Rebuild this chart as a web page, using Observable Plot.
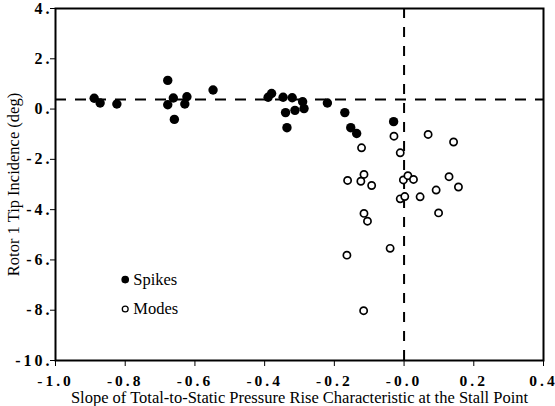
<!DOCTYPE html>
<html>
<head>
<meta charset="utf-8">
<script src="https://cdn.jsdelivr.net/npm/d3@7"></script>
<script src="https://cdn.jsdelivr.net/npm/@observablehq/plot@0.6"></script>
<style>
  html, body { margin: 0; padding: 0; background: #fff; }
  #chart svg { display: block; }
  #chart svg [aria-label="x-axis tick label"] { font-size: 15.5px; font-weight: bold; letter-spacing: 3px; }
  #chart svg [aria-label="y-axis tick label"] { font-size: 16px; font-weight: bold; letter-spacing: 3px; }
  #chart svg [aria-label="x-axis label"],
  #chart svg [aria-label="y-axis label"] { font-size: 16.5px; font-weight: normal; }
  #chart svg [aria-label="text"] { font-size: 16.5px; }
</style>
</head>
<body>
<div id="chart"></div>
<script>
// Spikes (filled circles)
const spikeX = [-0.889,-0.872,-0.824,-0.678,-0.678,-0.662,-0.659,-0.629,-0.623,-0.548,-0.390,-0.380,-0.347,-0.321,-0.291,-0.340,-0.313,-0.287,-0.336,-0.220,-0.170,-0.153,-0.136,-0.030];
const spikeY = [0.43,0.24,0.20,1.14,0.17,0.44,-0.41,0.20,0.49,0.76,0.47,0.62,0.47,0.45,0.29,-0.14,-0.05,0.02,-0.74,0.24,-0.14,-0.74,-0.97,-0.50];
// Modes (open circles)
const modeX = [-0.029,0.069,0.142,-0.122,-0.011,-0.162,-0.115,-0.124,-0.093,-0.002,0.011,0.027,0.129,0.156,0.092,0.046,-0.011,0.002,-0.115,-0.105,0.099,-0.040,-0.164,-0.116];
const modeY = [-1.08,-1.01,-1.31,-1.54,-1.74,-2.84,-2.60,-2.87,-3.04,-2.82,-2.65,-2.80,-2.69,-3.10,-3.22,-3.49,-3.57,-3.48,-4.15,-4.46,-4.13,-5.54,-5.81,-8.02];

// Reference lines
const refY = [0.38];
const refX = [0];

// Ticks
const xTicks = [-1.0,-0.8,-0.6,-0.4,-0.2,0,0.2,0.4];
const xTickLabels = ["-1.0","-0.8","-0.6","-0.4","-0.2","-0.0","0.2","0.4"];
const yTicks = [4,2,0,-2,-4,-6,-8,-10];
const yTickLabels = ["4.","2.","0.","-2.","-4.","-6.","-8.","-10."];

// Legend
const legendLabels = ["Spikes","Modes"];
const legendFilled = [true,false];
const legendX = -0.8;
const legendY = [-6.78,-7.95];

const xTitle = "Slope of Total-to-Static Pressure Rise Characteristic at the Stall Point";
const yTitle = "Rotor 1 Tip Incidence (deg)";

const spikes = spikeX.map((x,i) => ({x, y: spikeY[i]}));
const modes = modeX.map((x,i) => ({x, y: modeY[i]}));
const legend = legendLabels.map((label,i) => ({label, filled: legendFilled[i], x: legendX, y: legendY[i]}));

const chart = Plot.plot({
  width: 555,
  height: 406,
  marginLeft: 55,
  marginRight: 12,
  marginTop: 8,
  marginBottom: 46,
  style: {fontFamily: "'Liberation Serif', 'Times New Roman', serif", color: "#000", background: "#fff"},
  x: {domain: [-1.0, 0.4]},
  y: {domain: [-10, 4]},
  marks: [
    Plot.ruleY(refY, {stroke: "#000", strokeWidth: 2, strokeDasharray: "11,9"}),
    Plot.ruleX(refX, {stroke: "#000", strokeWidth: 2, strokeDasharray: "10,9"}),
    Plot.frame({stroke: "#000", strokeWidth: 2}),
    Plot.axisX({ticks: xTicks, tickFormat: d => xTickLabels[xTicks.indexOf(d)], tickSize: 6, tickPadding: 8, tickWidth: 2,
      label: xTitle, labelAnchor: "center", labelArrow: "none", labelOffset: 42}),
    Plot.axisY({ticks: yTicks, tickFormat: d => yTickLabels[yTicks.indexOf(d)], tickSize: 5, tickPadding: -2, tickWidth: 2,
      label: yTitle, labelAnchor: "center", labelArrow: "none", labelOffset: 48}),
    Plot.dot(modes, {x: "x", y: "y", r: 3.6, stroke: "#000", strokeWidth: 1.7, fill: "#fff"}),
    Plot.dot(spikes, {x: "x", y: "y", r: 4.7, fill: "#000", stroke: "none"}),
    Plot.dot(legend, {x: "x", y: "y", r: d => d.filled ? 3.8 : 3.2, fill: d => d.filled ? "#000" : "#fff", stroke: "#000", strokeWidth: 1.3}),
    Plot.text(legend, {x: "x", y: "y", text: "label", dx: 8, textAnchor: "start", fill: "#000"})
  ]
});

document.getElementById("chart").appendChild(chart);
</script>
</body>
</html>
